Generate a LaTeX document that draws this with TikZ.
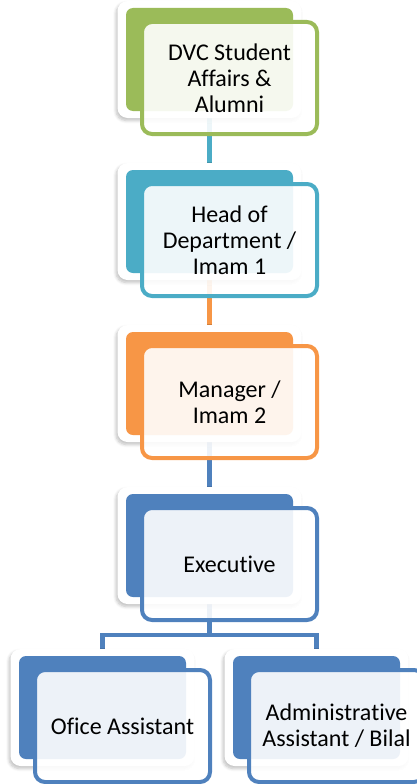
\documentclass[tikz,border=0pt]{standalone}
\usepackage{fontspec}
\setmainfont{Carlito}[Ligatures=NoCommon]
\usetikzlibrary{shadows.blur}
\pgfdeclarelayer{bg}
\pgfsetlayers{bg,main}
\definecolor{cgreen}{HTML}{9BBB59}
\definecolor{caqua}{HTML}{4BACC6}
\definecolor{corange}{HTML}{F79646}
\definecolor{cblue}{HTML}{4F81BD}
\tikzset{
  framebox/.style={rectangle, rounded corners=10pt, minimum width=184pt, minimum height=117pt,
    inner sep=0pt, fill=white, blur shadow={shadow xshift=-1.5pt, shadow yshift=-2.5pt,
    shadow blur radius=3pt, shadow blur steps=6, shadow opacity=25}},
  colrect/.style={rectangle, rounded corners=7pt, minimum width=167pt, minimum height=103pt,
    inner sep=0pt, fill=#1},
  frontbox/.style={rectangle, rounded corners=10pt, minimum width=175pt, minimum height=112pt,
    inner sep=0pt, line width=4pt, draw=#1, fill=white, fill opacity=0.9},
  boxtext/.style={align=center, inner sep=0pt, text=black, font=\fontsize{24}{26}\selectfont},
  conn/.style={line width=4.5pt, draw=#1},
}
\newcommand\orgbox[5]{%
  \node[framebox] (#1f) at (#2,#3) {};
  \node[colrect=#4] (#1) at (#2,#3) {};
  \node[frontbox=#4] (#1b) at ([xshift=20pt,yshift=-18.5pt]#1.center) {};
  \node[boxtext] (#1t) at (#1b.center) {#5};
}
\begin{document}
\begin{tikzpicture}[x=1pt,y=-1pt]
  \useasboundingbox (0,0) rectangle (417,784);
  \clip (0,0) rectangle (417,784);
  \orgbox{c1}{209.5}{59.5}{cgreen}{DVC Student\\Affairs \&\\Alumni}
  \orgbox{c2}{209.5}{221.5}{caqua}{Head of\\Department /\\Imam 1}
  \orgbox{c3}{209.5}{383.5}{corange}{Manager /\\Imam 2}
  \orgbox{c4}{209.5}{545.5}{cblue}{Executive}
  \orgbox{c5}{102.5}{707.5}{cblue}{Ofice Assistant}
  \orgbox{c6}{316.5}{707.5}{cblue}{Administrative\\Assistant / Bilal}
  \coordinate (split) at (209.5,635);
  \begin{pgfonlayer}{bg}
    \draw[conn=caqua] (c1.south) -- (c2.north);
    \draw[conn=corange] (c2.south) -- (c3.north);
    \draw[conn=cblue] (c3.south) -- (c4.north);
    \draw[conn=cblue] (c4.south) -- (split) -| (c5.north);
    \draw[conn=cblue] (split) -| (c6.north);
  \end{pgfonlayer}
\end{tikzpicture}
\end{document}
